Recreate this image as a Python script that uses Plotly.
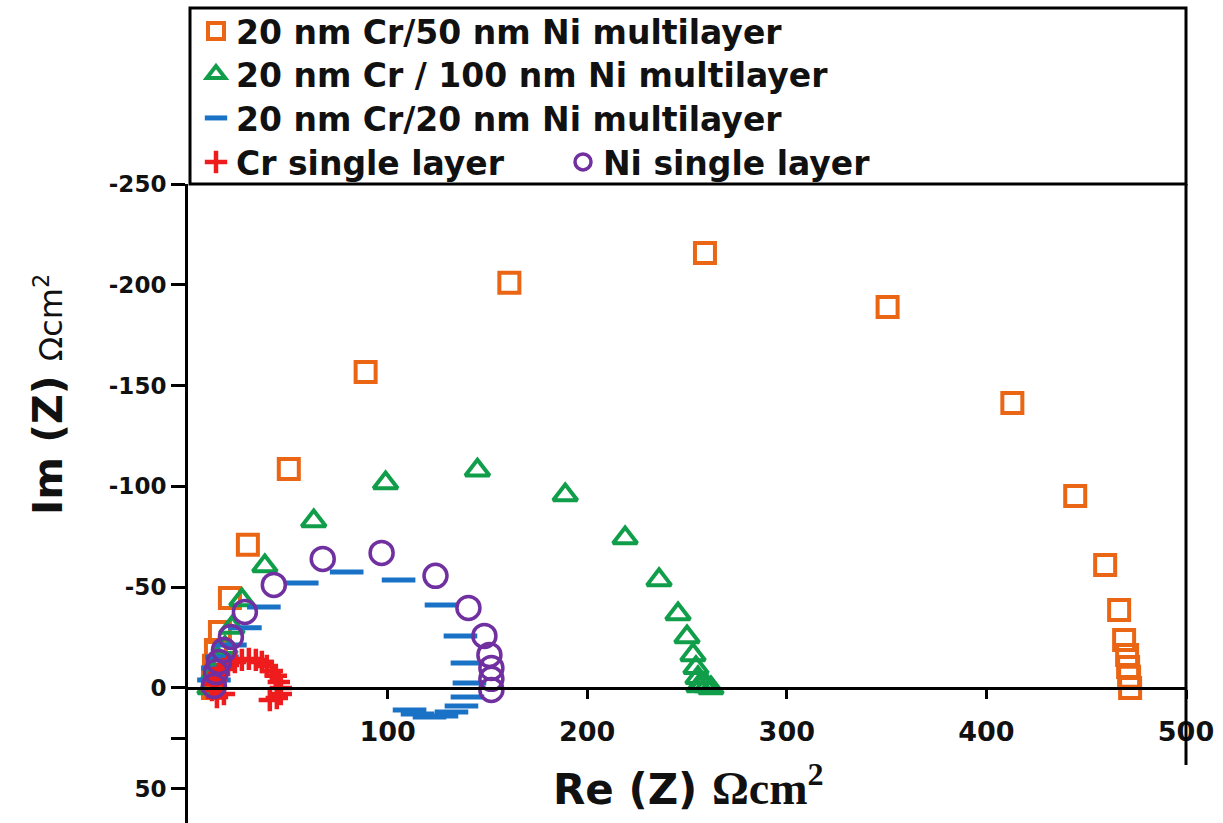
import plotly.graph_objects as go

# Nyquist data (Re Z, Im Z in ohm*cm^2)
cr50_re = [12.5, 12.5, 13, 14, 16, 21, 30, 50.5, 89, 161, 259, 350.5, 413, 444.5, 459.5, 466.5, 469, 470.5, 471, 471.5, 472]
cr50_im = [0, -5, -11, -18.8, -27.8, -44.6, -71, -108.6, -156.7, -201, -215.8, -189, -141.4, -95.2, -61, -38.7, -23.8, -16.4, -10.4, -5.5, 0]

cr100_re = [11, 13, 15.5, 18.5, 22, 27, 38.5, 63, 99, 145, 189, 219, 236, 245.5, 250, 253, 254.5, 255.5, 256, 258, 260, 262]
cr100_im = [0, -7, -13.9, -20, -30, -43.6, -60.5, -82.8, -101.7, -108, -95.7, -74.4, -53.6, -36.7, -25.3, -16.4, -10, -5, -1, -2, -1, 0]

cr20_re = [13, 15, 17, 21, 28.5, 38, 57, 79.5, 105.5, 127, 136.5, 140, 141, 140, 137, 132, 127, 121, 115, 111]
cr20_im = [-4, -9.9, -15.4, -21.3, -29.8, -40.2, -52.1, -57.5, -53.6, -41.2, -25.8, -12.4, -2.5, 4.5, 8.9, 11.9, 13.9, 14.4, 12.9, 10.9]

cr_re = [12, 13, 14, 15.5, 17.5, 20, 23.5, 27, 30.5, 34, 37, 39.5, 42, 44, 45.5, 46.5, 46.5, 44.5, 41, 14.5, 18]
cr_im = [1, -2, -4.5, -7, -9.4, -11.4, -12.9, -13.9, -14.4, -13.9, -12.9, -10.9, -8.4, -6, -3, 0, 3, 5, 6, 4.5, 3]

ni_re = [13, 14, 15.5, 18, 21.5, 28.5, 43, 67.5, 97, 124, 140.5, 148.5, 151, 152, 152, 152]
ni_im = [-1, -7.9, -12.9, -18.8, -25.3, -37.7, -51.1, -64, -67, -55.6, -39.7, -25.8, -16.4, -9.9, -4.5, 1]

x_ticks = [100, 200, 300, 400, 500]
y_ticks = [-250, -200, -150, -100, -50, 0, 50]
y_labels = ["-250", "-200", "-150", "-100", "-50", "0", "50"]
y_minor_ticks = [25]

ORANGE = "#EA6514"
GREEN = "#119E4A"
BLUE = "#1A72C6"
PURPLE = "#7030A0"
RED = "#EE1C1C"

W, H = 1223, 823
ML, MR, MT, MB = 188, 37, 184, 0
Y_LO, Y_HI = 67, -250  # bottom value, top value

plot_h = H - MT - MB
plot_w = W - ML - MR


def py(pix):
    return (H - MB - pix) / plot_h


def px(pix):
    return (pix - ML) / plot_w


fig = go.Figure()

fig.add_trace(go.Scatter(
    x=cr50_re, y=cr50_im, mode="markers", name="20 nm Cr/50 nm Ni multilayer",
    marker=dict(symbol="square-open", size=20, color=ORANGE, line=dict(width=4, color=ORANGE)),
    legend="legend"))
fig.add_trace(go.Scatter(
    x=cr100_re, y=cr100_im, mode="markers", name="20 nm Cr / 100 nm Ni multilayer",
    marker=dict(symbol="triangle-up-open", size=21, color=GREEN, line=dict(width=4, color=GREEN)),
    legend="legend2"))
fig.add_trace(go.Scatter(
    x=cr20_re, y=cr20_im, mode="markers", name="20 nm Cr/20 nm Ni multilayer",
    marker=dict(symbol="line-ew", size=24, color=BLUE, line=dict(width=5, color=BLUE)),
    legend="legend3"))
fig.add_trace(go.Scatter(
    x=cr_re, y=cr_im, mode="markers", name="Cr single layer",
    marker=dict(symbol="cross-thin", size=16, color=RED, line=dict(width=4.5, color=RED)),
    legend="legend4"))
fig.add_trace(go.Scatter(
    x=ni_re, y=ni_im, mode="markers", name="Ni single layer",
    marker=dict(symbol="circle-open", size=23, color=PURPLE, line=dict(width=3.5, color=PURPLE)),
    legend="legend5"))

zero_pos = (Y_LO - 0) / (Y_LO - Y_HI)

legend_font = dict(family="DejaVu Sans", size=33, color="#111111", weight="bold")


def legend_at(xpix, ypix):
    return dict(x=px(xpix), y=py(ypix), xanchor="left", yanchor="middle",
                orientation="v", font=legend_font, bgcolor="rgba(0,0,0,0)", itemwidth=30)


fig.update_layout(
    width=W, height=H,
    margin=dict(l=ML, r=MR, t=MT, b=MB),
    paper_bgcolor="white", plot_bgcolor="white",
    showlegend=True,
    legend=legend_at(196, 31),
    legend2=legend_at(196, 74),
    legend3=legend_at(196, 118),
    legend4=legend_at(196, 162),
    legend5=legend_at(563, 162),
    xaxis=dict(range=[0, 500], anchor="free", position=zero_pos,
               tickvals=x_ticks, ticks="outside", ticklen=9, tickwidth=3,
               tickcolor="black", showline=True, linecolor="black", linewidth=3,
               showgrid=False, zeroline=False, ticklabelstandoff=10,
               tickfont=dict(family="DejaVu Sans", size=27, color="#111111", weight="bold")),
    yaxis=dict(range=[Y_LO, Y_HI], tickvals=y_ticks, ticktext=y_labels,
               ticks="outside", ticklen=14, tickwidth=3, tickcolor="black",
               showline=True, linecolor="black", linewidth=3,
               showgrid=False, zeroline=False,
               minor=dict(tickmode="array", tickvals=y_minor_ticks, ticks="outside",
                          ticklen=14, tickwidth=3, tickcolor="black", showgrid=False),
               tickfont=dict(family="DejaVu Sans", size=23, color="#111111", weight="bold")),
)

# axis titles
fig.add_annotation(
    xref="paper", yref="paper", x=px(688), y=py(785), xanchor="center", yanchor="middle",
    showarrow=False,
    text="Re (Z) <span style='font-family:Liberation Serif;font-size:46px'>Ωcm<sup>2</sup></span>",
    font=dict(family="DejaVu Sans", size=42, color="#111111", weight="bold"))
fig.add_annotation(
    xref="paper", yref="paper", x=px(48), y=py(395), xanchor="center", yanchor="middle",
    showarrow=False, textangle=-90,
    text="Im (Z) <span style='font-size:32px;font-weight:normal'>Ωcm<sup>2</sup></span>",
    font=dict(family="DejaVu Sans", size=41, color="#111111", weight="bold"))

# legend frame and the right-hand border
fig.add_shape(type="rect", xref="paper", yref="paper",
              x0=px(190), x1=px(1186), y0=py(184), y1=py(8),
              line=dict(color="black", width=3), layer="above")
fig.add_shape(type="line", xref="paper", yref="paper",
              x0=px(1186), x1=px(1186), y0=py(184), y1=py(765),
              line=dict(color="black", width=3), layer="above")

fig.write_html("out.html")
